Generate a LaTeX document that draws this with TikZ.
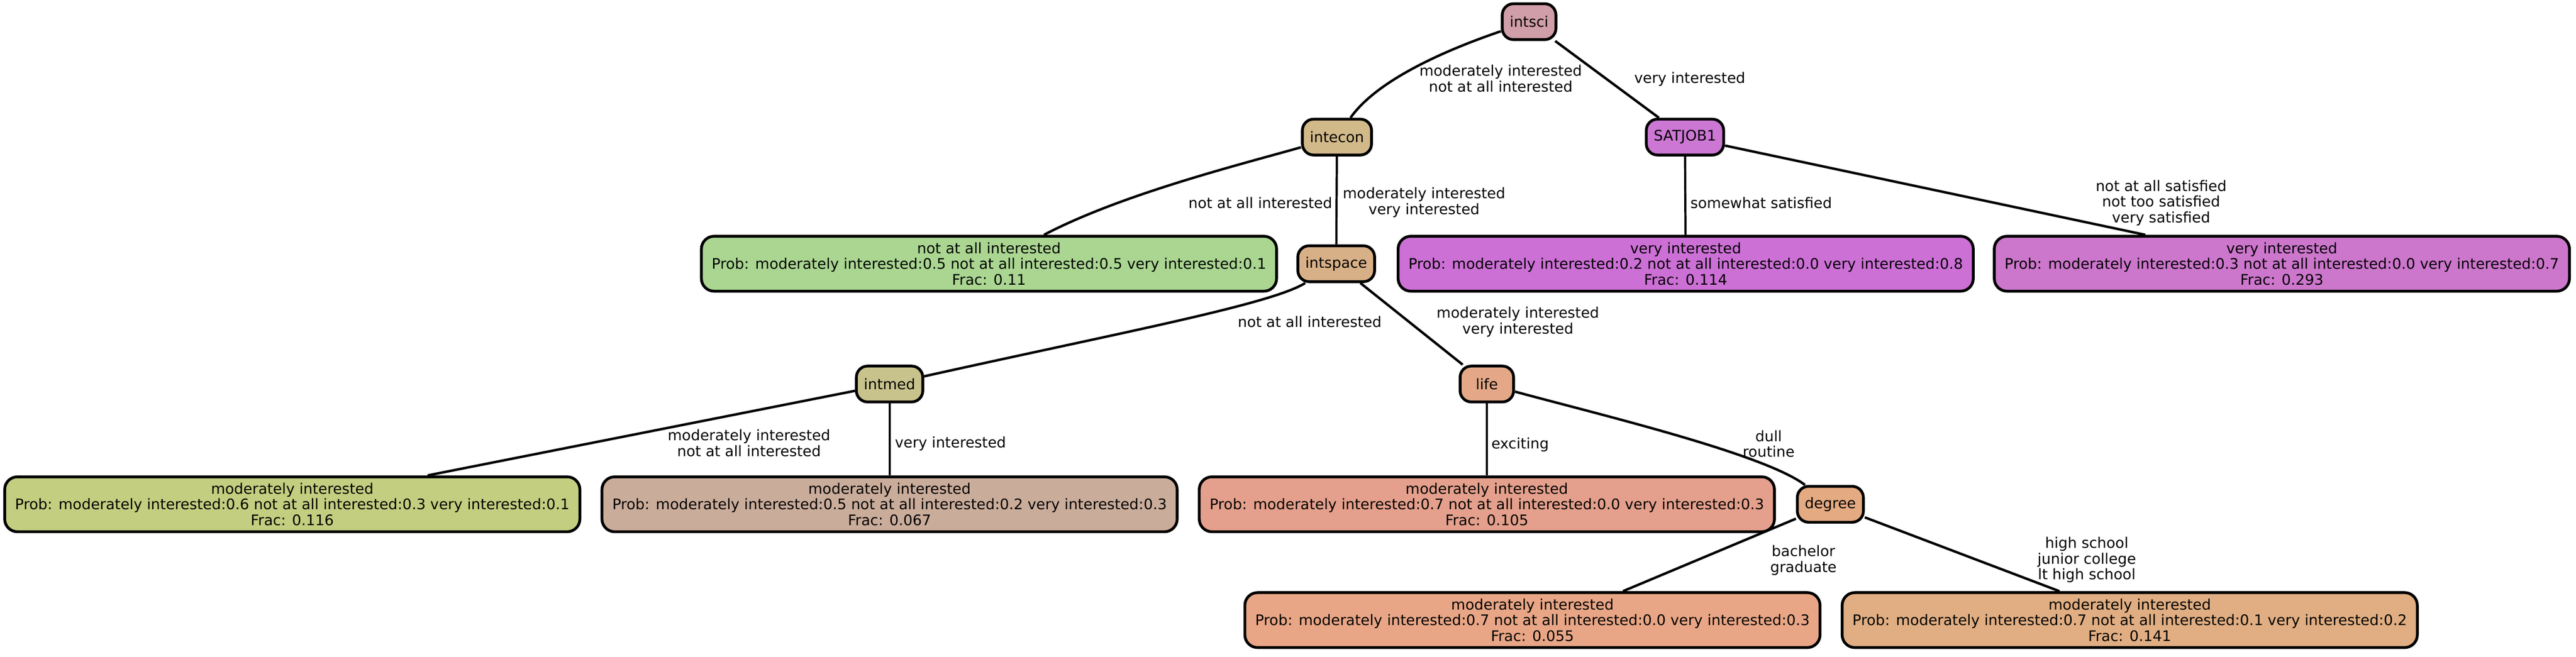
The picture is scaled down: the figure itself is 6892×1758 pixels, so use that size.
\documentclass[tikz,border=0pt]{standalone}
\usepackage{fontspec}
\setmainfont{DejaVu Sans}
\usepackage{tikz}
\usetikzlibrary{positioning}

\definecolor{intscicol}{HTML}{D09EA8}
\definecolor{inteconcol}{HTML}{D2B98A}
\definecolor{satjobcol}{HTML}{CC77D4}
\definecolor{intspacecol}{HTML}{D8B088}
\definecolor{intmedcol}{HTML}{C8C38C}
\definecolor{lifecol}{HTML}{E4A888}
\definecolor{degreecol}{HTML}{E4AA82}
\definecolor{greenleaf}{HTML}{AAD692}
\definecolor{purpleleafa}{HTML}{CC70D6}
\definecolor{purpleleafb}{HTML}{CC76CC}
\definecolor{oliveleaf}{HTML}{C4CE80}
\definecolor{tanleaf}{HTML}{CAAC9B}
\definecolor{salmonleaf}{HTML}{E4A08C}
\definecolor{peachleaf}{HTML}{E8A686}
\definecolor{sandleaf}{HTML}{E0AE82}

\begin{document}
\begin{tikzpicture}[x=0.01cm, y=-0.01cm, font=\fontsize{11.1pt}{11.9pt}\selectfont,
    splitbox/.style={draw, line width=0.075cm, rounded corners=0.3cm, minimum width=1.43cm, minimum height=0.96cm, inner xsep=0.2cm},
    leafbox/.style={draw, line width=0.075cm, rounded corners=0.34cm, minimum width=15.38cm, minimum height=1.47cm, align=center},
    lbl/.style={align=center, inner sep=0pt},
    thinedge/.style={line width=0.058cm},
    link/.style={line width=0.066cm}]

    \useasboundingbox (0,0) rectangle (6892,1758);

    % Split nodes
    \node[splitbox, fill=intscicol] (intsci) at (4091,58) {intsci};
    \node[splitbox, fill=inteconcol] (intecon) at (3577,367) {intecon};
    \node[splitbox, fill=satjobcol] (satjob) at (4508,367) {SATJOB1};
    \node[splitbox, fill=intspacecol] (intspace) at (3575,706) {intspace};
    \node[splitbox, fill=intmedcol] (intmed) at (2380,1028) {intmed};
    \node[splitbox, fill=lifecol] (life) at (3978,1028) {life};
    \node[splitbox, fill=degreecol] (degree) at (4897,1350) {degree};

    % Leaves
    \node[leafbox, fill=greenleaf] (leafA) at (2646,706) {not at all interested\\Prob: moderately interested:0.5 not at all interested:0.5 very interested:0.1\\Frac: 0.11};
    \node[leafbox, fill=purpleleafa] (leafB) at (4510,706) {very interested\\Prob: moderately interested:0.2 not at all interested:0.0 very interested:0.8\\Frac: 0.114};
    \node[leafbox, fill=purpleleafb] (leafC) at (6105,706) {very interested\\Prob: moderately interested:0.3 not at all interested:0.0 very interested:0.7\\Frac: 0.293};
    \node[leafbox, fill=oliveleaf] (leafD) at (782,1350) {moderately interested\\Prob: moderately interested:0.6 not at all interested:0.3 very interested:0.1\\Frac: 0.116};
    \node[leafbox, fill=tanleaf] (leafE) at (2380,1350) {moderately interested\\Prob: moderately interested:0.5 not at all interested:0.2 very interested:0.3\\Frac: 0.067};
    \node[leafbox, fill=salmonleaf] (leafF) at (3978,1350) {moderately interested\\Prob: moderately interested:0.7 not at all interested:0.0 very interested:0.3\\Frac: 0.105};
    \node[leafbox, fill=peachleaf] (leafG) at (4100,1660) {moderately interested\\Prob: moderately interested:0.7 not at all interested:0.0 very interested:0.3\\Frac: 0.055};
    \node[leafbox, fill=sandleaf] (leafH) at (5698,1660) {moderately interested\\Prob: moderately interested:0.7 not at all interested:0.1 very interested:0.2\\Frac: 0.141};

    % Edges
    \draw[link] (intsci) .. controls (3850,140) and (3680,220) .. (intecon);
    \draw[link] (intsci) -- (satjob);
    \draw[link] (intecon) .. controls (3320,440) and (3000,520) .. (leafA);
    \draw[thinedge] (intecon) -- (intspace);
    \draw[thinedge] (satjob) -- (leafB);
    \draw[link] (satjob) -- ([xshift=-3.65cm]leafC.north);
    \draw[link] (intspace) .. controls (3400,815) and (3000,890) .. (intmed);
    \draw[link] (intspace) -- (life);
    \draw[link] (intmed) -- ([xshift=3.62cm]leafD.north);
    \draw[thinedge] (intmed) -- (leafE);
    \draw[thinedge] (life) -- (leafF);
    \draw[link] (life) .. controls (4280,1110) and (4720,1215) .. (degree);
    \draw[link] (degree) -- ([xshift=2.42cm]leafG.north);
    \draw[link] (degree) -- ([xshift=-1.88cm]leafH.north);

    % Edge labels
    \node[lbl] (l1) at (4015,210) {moderately interested\\not at all interested};
    \node[lbl] (l2) at (4521,212) {very interested};
    \node[lbl] (l3) at (3372,543) {not at all interested};
    \node[lbl] (l4) at (3810,542) {moderately interested\\very interested};
    \node[lbl] (l5) at (4712,543) {somewhat satisfied};
    \node[lbl] (l6) at (5782,543) {not at all satisfied\\not too satisfied\\very satisfied};
    \node[lbl] (l7) at (3504,862) {not at all interested};
    \node[lbl] (l8) at (4061,862) {moderately interested\\very interested};
    \node[lbl] (l9) at (2004,1186) {moderately interested\\not at all interested};
    \node[lbl] (l10) at (2543,1188) {very interested};
    \node[lbl] (l11) at (4067,1190) {exciting};
    \node[lbl] (l12) at (4732,1188) {dull\\routine};
    \node[lbl] (l13) at (4825,1500) {bachelor\\graduate};
    \node[lbl] (l14) at (5583,1499) {high school\\junior college\\lt high school};
\end{tikzpicture}
\end{document}
